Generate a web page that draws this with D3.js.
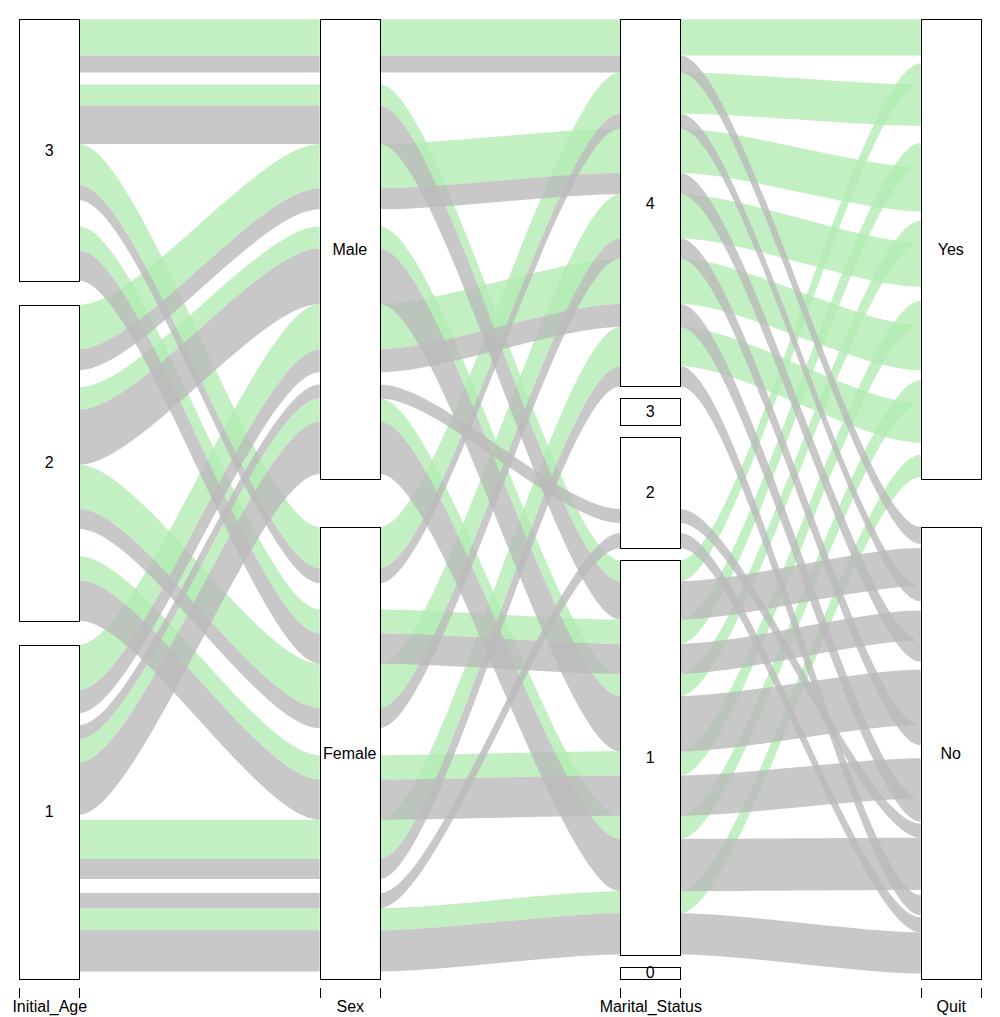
<!DOCTYPE html>
<html><head><meta charset="utf-8">
<script src="https://cdn.jsdelivr.net/npm/d3@7"></script>
<style>body{margin:0;background:#fff} svg{display:block} text{font-family:"Liberation Sans",Arial,sans-serif;}</style>
</head><body>
<svg id="chart" width="1000" height="1017"></svg>
<script>
// ---- data ----
const axisNames = ["Initial_Age", "Sex", "Marital_Status", "Quit"];
const ageLevels = ["1", "2", "3"];
const sexLevels = ["Female", "Male"];
const maritalLevels = ["0", "1", "2", "3", "4"];
const quitLevels = ["No", "Yes"];

const initialAge = ["3","3","3","3","3","3","3","3", "3","3","3","3","3","3","3","3",
                    "2","2","2","2","2","2","2","2", "2","2","2","2","2","2","2","2",
                    "1","1","1","1","1","1","1","1","1", "1","1","1","1","1","1","1","1","1","1"];
const sex = ["Male","Male","Male","Male","Male","Male","Male","Male",
             "Female","Female","Female","Female","Female","Female","Female","Female",
             "Male","Male","Male","Male","Male","Male","Male","Male",
             "Female","Female","Female","Female","Female","Female","Female","Female",
             "Male","Male","Male","Male","Male","Male","Male","Male","Male",
             "Female","Female","Female","Female","Female","Female","Female","Female","Female","Female"];
const maritalStatus = ["4","4","3","3","2","2","1","1", "4","4","3","3","2","2","1","1",
                       "4","4","3","3","2","2","1","1", "4","4","3","3","2","2","1","1",
                       "4","4","3","3","2","2","1","1","0", "4","4","3","3","2","2","1","1","0","0"];
const quit = ["Yes","No","Yes","No","Yes","No","Yes","No", "Yes","No","Yes","No","Yes","No","Yes","No",
              "Yes","No","Yes","No","Yes","No","Yes","No", "Yes","No","Yes","No","Yes","No","Yes","No",
              "Yes","No","Yes","No","Yes","No","Yes","No","No", "Yes","No","Yes","No","Yes","No","Yes","No","Yes","No"];
const freq = [36,17,2,1,6,3,21,38, 41,15,3,2,14,7,24,30,
              44,21,2,2,7,6,22,55, 44,20,3,3,11,10,24,40,
              45,23,2,2,8,14,23,52,5, 39,20,2,2,10,15,22,41,2,5];
const hidden = [0,0,1,1,1,1,0,0, 0,0,1,1,1,1,0,0,
                0,0,1,1,1,1,0,0, 0,0,1,1,1,1,0,0,
                0,0,1,1,1,0,0,0,1, 0,0,1,1,1,0,0,0,1,1];

// ---- layout (alluvial algorithm) ----
const levelsList = [ageLevels, sexLevels, maritalLevels, quitLevels];
const cols = [initialAge, sex, maritalStatus, quit];
const n = freq.length;
const total = d3.sum(freq);
const f = freq.map(v => v / total);
const gapW = 0.05, cw = 0.1;
const codes = cols.map((c, k) => c.map(v => levelsList[k].indexOf(v)));

function getp(i) {
  const a = [i].concat(d3.range(cols.length).filter(k => k !== i));
  const o = d3.range(n).sort((p, q) => {
    for (const k of a) { const d = codes[k][p] - codes[k][q]; if (d) return d; }
    return p - q;
  });
  let cum = 0; const brk = [0];
  o.forEach(r => { cum += f[r]; brk.push(cum); });
  const gaps = [0];
  for (let t = 1; t < o.length; t++) gaps.push(gaps[t-1] + (codes[i][o[t]] !== codes[i][o[t-1]] ? 1 : 0));
  const mx = d3.max(gaps) || 1;
  const res = new Array(n);
  o.forEach((r, t) => {
    const g = gaps[t] / mx * gapW;
    res[r] = [brk[t] * (1 - gapW) + g, brk[t+1] * (1 - gapW) + g];
  });
  return res;
}
const dd = d3.range(cols.length).map(getp);

// ---- drawing ----
const x = d3.scaleLinear().domain([1 - cw, cols.length + cw]).range([19.2, 980.8]);
const y = d3.scaleLinear().domain([0, 1]).range([978.6, 19.2]);
const svg = d3.select("#chart");

const colorFor = q => q === "Yes" ? "rgb(179,236,179)" : "rgb(186,186,186)";
const flowOpacity = 0.8;

function flowPath(i, j) {
  const x0 = x(j + 1 + cw), x1 = x(j + 2 - cw);
  const k = 0.25 * (x1 - x0);
  const [a0, a1] = dd[j][i], [b0, b1] = dd[j+1][i];
  const p = d3.path();
  p.moveTo(x0, y(a0));
  p.lineTo(x0, y(a1));
  p.bezierCurveTo(x0 + k, y(a1), x1 - k, y(b1), x1, y(b1));
  p.lineTo(x1, y(b0));
  p.bezierCurveTo(x1 - k, y(b0), x0 + k, y(a0), x0, y(a0));
  p.closePath();
  return p.toString();
}

// draw order: later rows first so earlier (No) rows end on top
const drawOrder = d3.range(n).filter(i => !hidden[i])
  .sort((p, q) => (codes[3][q] - codes[3][p]) || (q - p));
const gFlows = svg.append("g");
drawOrder.forEach(i => {
  for (let j = 0; j < cols.length - 1; j++) {
    gFlows.append("path").attr("d", flowPath(i, j))
      .attr("fill", colorFor(quit[i])).attr("fill-opacity", flowOpacity).attr("stroke", "none");
  }
});

// blocks and labels
const gBlocks = svg.append("g");
cols.forEach((c, j) => {
  levelsList[j].forEach(lv => {
    const idx = d3.range(n).filter(r => c[r] === lv);
    if (!idx.length) return;
    const lo = d3.min(idx, r => dd[j][r][0]), hi = d3.max(idx, r => dd[j][r][1]);
    gBlocks.append("rect")
      .attr("x", Math.round(x(j + 1 - cw)) + 0.5).attr("y", Math.round(y(hi)) + 0.5)
      .attr("width", Math.round(x(j + 1 + cw)) - Math.round(x(j + 1 - cw)))
      .attr("height", Math.round(y(lo)) - Math.round(y(hi)))
      .attr("fill", "none").attr("stroke", "#000").attr("stroke-width", 1);
    gBlocks.append("text").attr("x", x(j + 1)).attr("y", y((lo + hi) / 2))
      .attr("dy", "0.36em").attr("text-anchor", "middle")
      .attr("font-size", 16).attr("fill", "#000").text(lv);
  });
});

// x axis ticks
const tickVals = [];
for (let j = 1; j <= cols.length; j++) { tickVals.push(j - cw, j + cw); }
const axTicks = svg.append("g").attr("transform", "translate(0,988.2)")
  .call(d3.axisBottom(x).tickValues(tickVals).tickFormat("").tickSize(9.6).tickSizeOuter(0));
axTicks.select(".domain").remove();
axTicks.selectAll("line").attr("stroke", "#000").attr("shape-rendering", "crispEdges");

const axLab = svg.append("g").attr("transform", "translate(0,988.2)")
  .call(d3.axisBottom(x).tickValues(d3.range(1, cols.length + 1)).tickFormat((d, k) => axisNames[k])
        .tickSize(0).tickPadding(12.5));
axLab.select(".domain").remove();
axLab.selectAll("text").attr("font-size", 16).attr("fill", "#000")
  .attr("font-family", "\"Liberation Sans\",Arial,sans-serif");
</script>
</body></html>
